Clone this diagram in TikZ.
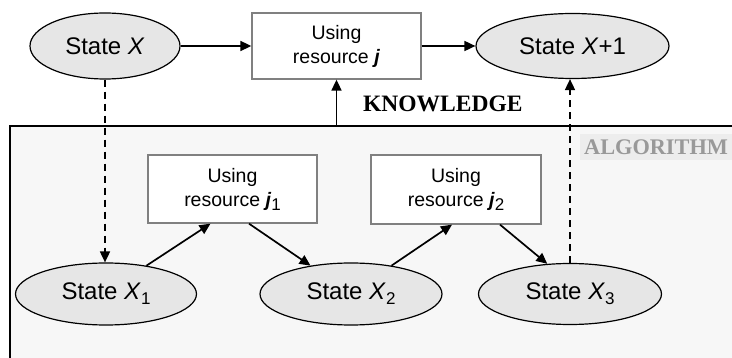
\documentclass[tikz,border=0pt]{standalone}
\usepackage{fontspec}
\setmainfont{Liberation Sans}
\newfontfamily\tnr{Liberation Serif}
\usetikzlibrary{shapes.geometric,arrows.meta,calc}
\definecolor{ellfill}{HTML}{E6E6E6}
\definecolor{framefill}{HTML}{F7F7F7}
\definecolor{boxline}{HTML}{808080}
\definecolor{algtext}{HTML}{999999}
\definecolor{algbg}{HTML}{EDEDED}
\tikzset{
  statenode/.style={ellipse, draw=black, line width=1.2pt, fill=ellfill, inner sep=0pt, font=\fontsize{24}{28}\selectfont},
  usebox/.style={rectangle, draw=boxline, line width=1.3pt, fill=white, inner sep=0pt, align=center, font=\fontsize{19.5}{24}\selectfont},
  arr/.style={line width=1.7pt, -{Triangle[length=11pt,width=10pt]}},
  darr/.style={arr, dash pattern=on 7pt off 5pt},
  banner/.style={font=\tnr\bfseries\fontsize{23.5}{27}\selectfont, inner sep=0pt}
}
\newcommand{\sbs}[1]{\raisebox{-0.4ex}{\fontsize{17}{20}\selectfont #1}}
\begin{document}
\begin{tikzpicture}[x=1pt,y=-1pt]
\useasboundingbox (0,0) rectangle (732,358);
\fill[white] (0,0) rectangle (732,358);
% frame
\fill[framefill] (10,126) rectangle (732,358);
\fill[algbg] (580,134) rectangle (732,160);
\draw[line width=1.8pt] (732,126) -- (10,126) -- (10,360);
\coordinate (ftop) at (10,126);
% top row
\node[statenode, minimum width=150pt, minimum height=66pt] (X) at (105,46) {State \textit{X}};
\node[usebox, minimum width=169pt, minimum height=66pt] (R) at (336.5,46) {Using\\resource \textbf{\textit{j}}};
\node[statenode, minimum width=193pt, minimum height=65pt] (Xp) at (572.5,46) {State \textit{X}+1};
% bottom row
\node[usebox, minimum width=169pt, minimum height=68pt] (R1) at (232.5,189) {Using\\resource \textbf{\textit{j}}\sbs{1}};
\node[usebox, minimum width=170pt, minimum height=69pt] (R2) at (456,189.5) {Using\\resource \textbf{\textit{j}}\sbs{2}};
\node[statenode, minimum width=181pt, minimum height=62pt] (X1) at (106,294) {State \textit{X}\sbs{1}};
\node[statenode, minimum width=182pt, minimum height=62pt] (X2) at (351,294) {State \textit{X}\sbs{2}};
\node[statenode, minimum width=183pt, minimum height=61pt] (X3) at (570,294) {State \textit{X}\sbs{3}};
% labels
\node[banner, anchor=west] (kn) at (363,104) {KNOWLEDGE};
\node[banner, anchor=west, text=algtext, font=\tnr\bfseries\fontsize{22.3}{26}\selectfont] (alg) at (584,147) {ALGORITHM};
% connectors
\draw[arr] (X.east) -- (R.west);
\draw[arr] (R.east) -- (Xp.west);
\draw[arr] (R.south |- ftop) -- (R.south);
\draw[darr] (X.south) -- (X.south |- X1.north);
\draw[darr] (X3.north) -- (X3.north |- Xp.south);
\draw[arr] (X1.35) -- ($(R1.south)+(-22,0)$);
\draw[arr] ($(R1.south)+(16.5,0)$) -- (X2.145);
\draw[arr] (X2.35) -- ($(R2.south)+(-4,0)$);
\draw[arr] ($(R2.south)+(44,0)$) -- (X3.127);
\end{tikzpicture}
\end{document}
